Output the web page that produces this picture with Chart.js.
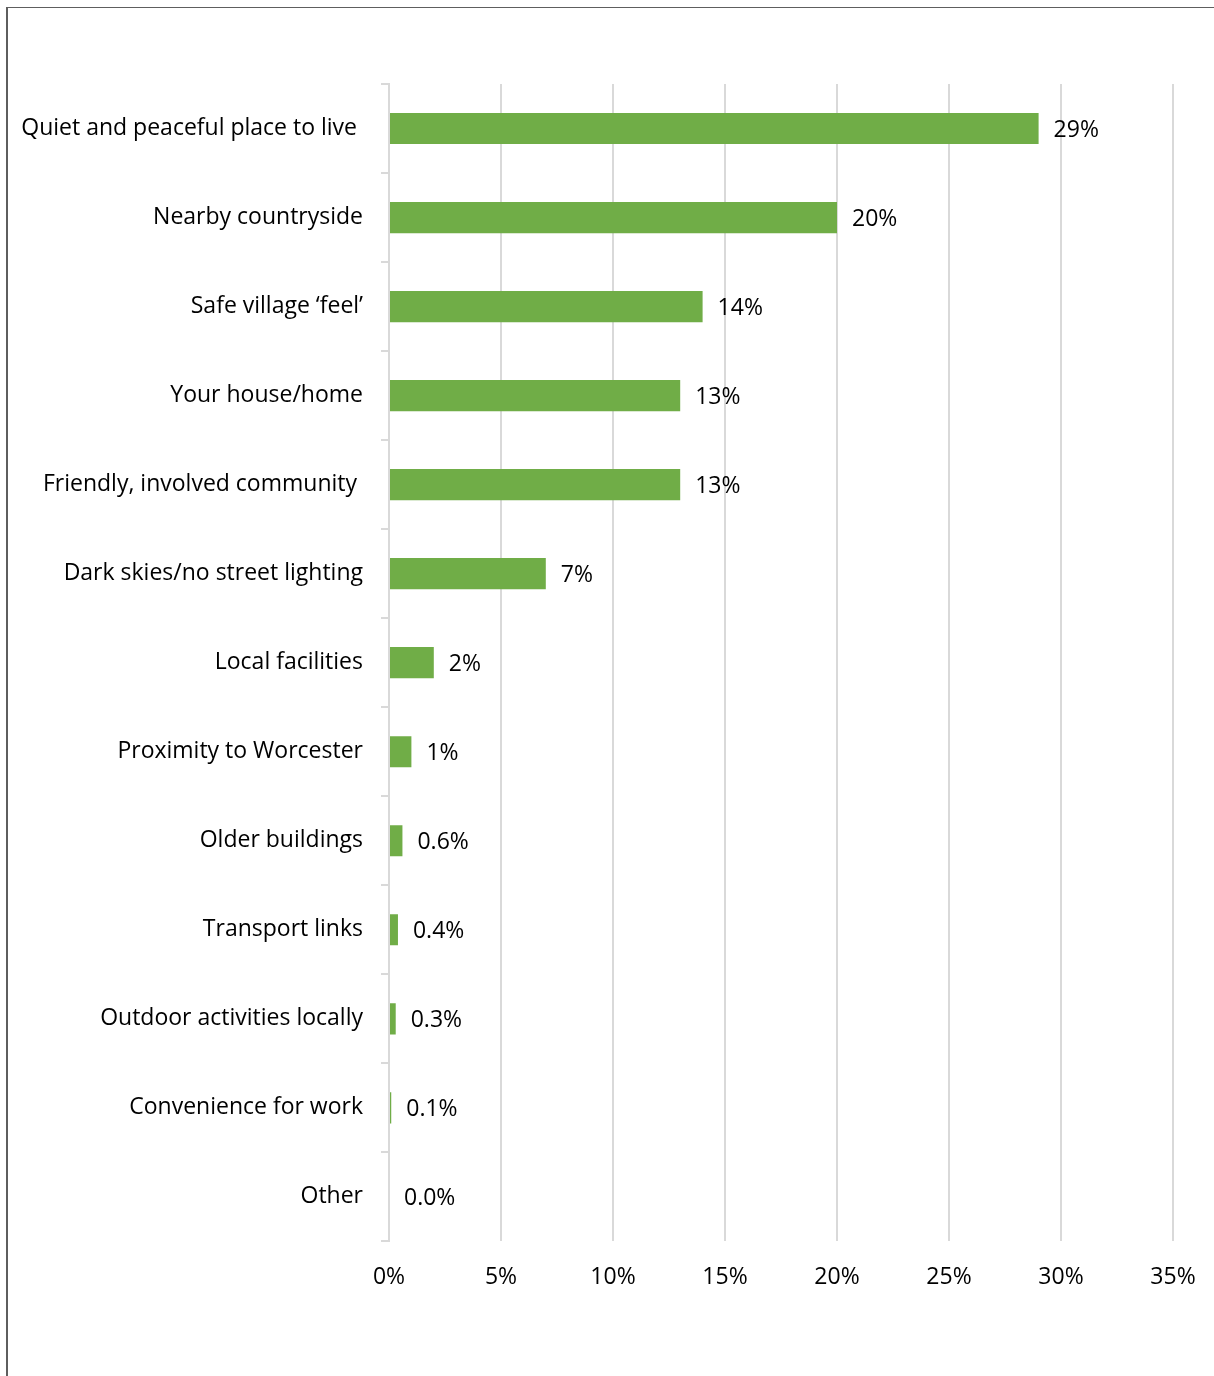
<!DOCTYPE html>
<html>
<head>
<meta charset="utf-8">
<script src="https://cdn.jsdelivr.net/npm/chart.js@4"></script>
<style>
    html, body { margin: 0; padding: 0; background: #fff; overflow: hidden; }
    #frame {
        position: absolute; left: 6px; top: 7px; width: 1400px; height: 1500px;
        border-left: 2px solid #5e5e5e; border-top: 1px solid #5e5e5e;
    }
    #chartBox { position: absolute; left: 0; top: 0; width: 1214px; height: 1376px; }
</style>
</head>
<body>
<div id="frame"></div>
<div id="chartBox"><canvas id="likesChart" width="1214" height="1376"></canvas></div>
<script>
// Apa yang paling disukai warga tentang desa (persentase jawaban)
const categories = [
    'Quiet and peaceful place to live ',
    'Nearby countryside',
    'Safe village \u2018feel\u2019',
    'Your house/home',
    'Friendly, involved community ',
    'Dark skies/no street lighting',
    'Local facilities',
    'Proximity to Worcester',
    'Older buildings',
    'Transport links',
    'Outdoor activities locally',
    'Convenience for work',
    'Other'
];
const shares = [29, 20, 14, 13, 13, 7, 2, 1, 0.6, 0.4, 0.3, 0.1, 0];
const xTicks = [0, 5, 10, 15, 20, 25, 30, 35];

const FONT = '"Open Sans", Lato, sans-serif';
const GRID = '#d9d9d9';

function fmt(v) {
    return v >= 1 ? v.toFixed(0) + '%' : v.toFixed(1) + '%';
}

// label nilai di ujung kanan setiap batang
const valueLabels = {
    id: 'valueLabels',
    afterDatasetsDraw(chart) {
        const ctx = chart.ctx;
        const meta = chart.getDatasetMeta(0);
        ctx.save();
        ctx.font = '23px ' + FONT;
        ctx.fillStyle = '#000';
        ctx.textAlign = 'left';
        ctx.textBaseline = 'middle';
        meta.data.forEach((bar, i) => {
            const x = chart.scales.x.getPixelForValue(shares[i]);
            ctx.fillText(fmt(shares[i]), x + 15, bar.y + 2);
        });
        ctx.restore();
    }
};

new Chart(document.getElementById('likesChart'), {
    type: 'bar',
    data: {
        labels: categories,
        datasets: [{
            data: shares,
            backgroundColor: '#70ad47',
            borderWidth: 0,
            barPercentage: 1,
            categoryPercentage: 0.35
        }]
    },
    options: {
        indexAxis: 'y',
        responsive: false,
        animation: false,
        layout: { padding: { left: 0, right: 41, top: 84, bottom: 85 } },
        plugins: {
            legend: { display: false },
            tooltip: { enabled: false }
        },
        scales: {
            x: {
                min: 0,
                max: 35,
                afterBuildTicks(scale) {
                    scale.ticks = xTicks.map(v => ({ value: v }));
                },
                ticks: {
                    callback: v => v + '%',
                    color: '#000',
                    padding: 0,
                    font: { family: FONT, size: 23 }
                },
                // jarak label ke area plot lewat tick transparan
                grid: {
                    color: GRID,
                    lineWidth: 2,
                    drawTicks: true,
                    tickLength: 22,
                    tickColor: 'rgba(0,0,0,0)'
                },
                border: { display: false }
            },
            y: {
                afterFit(scale) { scale.width = 389; },
                ticks: {
                    color: '#000',
                    padding: 18,
                    font: { family: FONT, size: 23 }
                },
                grid: {
                    offset: true,
                    drawOnChartArea: false,
                    color: GRID,
                    lineWidth: 2,
                    tickLength: 8
                },
                border: { display: true, color: GRID, width: 2 }
            }
        }
    },
    plugins: [valueLabels]
});
</script>
</body>
</html>
